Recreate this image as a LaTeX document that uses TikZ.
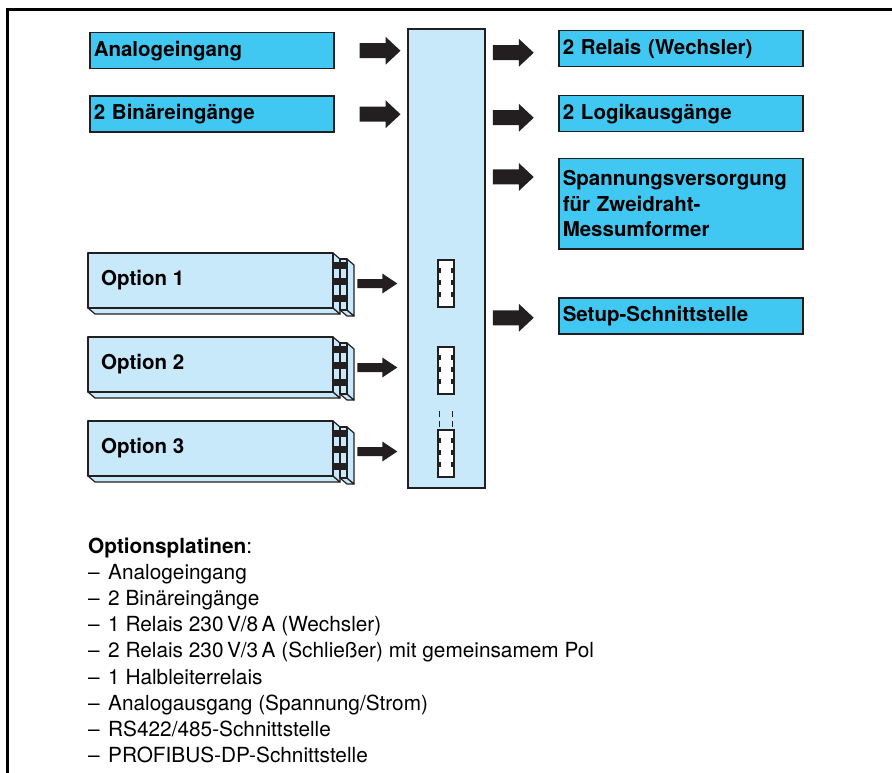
\documentclass[tikz,border=0pt]{standalone}
\usepackage{fontspec}
\setmainfont{TeX Gyre Heros}
\usetikzlibrary{positioning,calc}

\definecolor{boxcyan}{RGB}{64,200,242}
\definecolor{boardblue}{RGB}{199,233,249}
\definecolor{darkline}{RGB}{35,31,32}

\tikzset{
  boxfont/.style={font=\fontsize{20.5}{25.5}\selectfont\bfseries},
  ioBox/.style={draw=darkline, line width=1.5pt, fill=boxcyan, anchor=north west,
    minimum width=244pt, minimum height=36pt, text width=236pt, align=left,
    inner xsep=4pt, inner ysep=0pt, boxfont},
  boardface/.style={draw=darkline, line width=1.2pt, fill=boardblue, line join=round},
  slotbox/.style={draw=darkline, line width=2pt, fill=white, minimum width=16pt,
    minimum height=47pt, inner sep=0pt},
  listtext/.style={anchor=base west, inner sep=0pt, font=\fontsize{20.8}{25}\selectfont},
  bigarrow/.pic={
    \fill[darkline] (0,-7.5) -- (26,-7.5) -- (26,-14) -- (41,0) -- (26,14) -- (26,7.5) -- (0,7.5) -- cycle;
  },
  smallarrow/.pic={
    \fill[darkline] (0,-4.5) -- (25,-4.5) -- (25,-10) -- (40,0) -- (25,10) -- (25,4.5) -- (0,4.5) -- cycle;
  },
  optboard/.pic={
    % Platine
    \filldraw[boardface] (0,55) -- (7,61) -- (252,61) -- (245,55) -- cycle;
    \filldraw[boardface] (245,0) -- (252,6) -- (252,61) -- (245,55) -- cycle;
    \filldraw[boardface] (0,0) rectangle (245,55);
    % Stecker
    \filldraw[boardface] (252,57) -- (259,57) -- (266,63) -- (259,63) -- cycle;
    \filldraw[boardface] (259,6) -- (266,12) -- (266,63) -- (259,57) -- cycle;
    \filldraw[boardface] (252,6) rectangle (259,57);
    \foreach \p in {9,25,42}
      \fill[darkline] (245,\p) rectangle (259,\p+6.5);
  }
}

\begin{document}
\begin{tikzpicture}[x=1pt, y=-1pt]
\useasboundingbox (0,0) rectangle (892,773);

% Rahmen
  \draw[line width=3pt] (892,9.5) -- (7.5,9.5) -- (7.5,773);

% Grundgeraet
  \node[draw=darkline, line width=1.5pt, fill=boardblue, minimum width=77pt,
        minimum height=459pt, inner sep=0pt] (board) at (446.5,258.5) {};

% Eingaenge
  \node[ioBox] (ana) at (89,32) {Analogeingang};
  \node[ioBox] (bin) at (89,95.5) {2 Binäreingänge};
  \pic at ($(ana.east)+(25,0)$) {bigarrow};
  \pic at ($(bin.east)+(25,0)$) {bigarrow};

% Ausgaenge
  \node[ioBox] (rel) at (558,30) {2 Relais (Wechsler)};
  \node[ioBox] (logik) at (558,95) {2 Logikausgänge};
  \node[ioBox, minimum height=90pt] (spv) at (558,158)
       {Spannungsversorgung\\für Zweidraht-\\Messumformer};
  \node[ioBox] (setup) at (558,297) {Setup-Schnittstelle};
  \pic at ($(board.east |- rel.west)+(7,4)$) {bigarrow};
  \pic at ($(board.east |- logik.west)+(7,4)$) {bigarrow};
  \pic at ($(board.east |- spv.north)+(7,19)$) {bigarrow};
  \pic at ($(board.east |- setup.west)+(7,2)$) {bigarrow};

% Steckplaetze
  \foreach \n/\y in {1/283.5, 2/370, 3/453.5} {
    \node[slotbox] (slot\n) at (446,\y) {};
    \foreach \p in {9,21,33} {
      \fill[darkline] ($(slot\n.north west)+(1.5,\p)$) rectangle ++(2.5,5);
      \fill[darkline] ($(slot\n.north east)+(-4,\p)$) rectangle ++(2.5,5);
    }
  }
  \draw[darkline, line width=1.5pt, dash pattern=on 6pt off 4pt]
    ($(slot3.north west)+(2.5,-18)$) -- ($(slot3.north west)+(2.5,0)$)
    ($(slot3.north east)+(-2.5,-18)$) -- ($(slot3.north east)+(-2.5,0)$);

% Optionsplatinen
  \foreach \n/\y in {1/253, 2/337, 3/421} {
    \pic at (88,\y) {optboard};
    \node[anchor=west, inner sep=0pt, boxfont] (opt\n) at (101,\y+27.5) {Option \n};
    \pic at ($(opt\n.west -| board.west)+(-50,3)$) {smallarrow};
  }

% Liste
  \node[listtext] (head) at (88,553) {\textbf{Optionsplatinen}:};
  \foreach \txt [count=\i] in {Analogeingang, 2 Binäreingänge,
      {1 Relais 230\,V/8\,A (Wechsler)},
      {2 Relais 230\,V/3\,A (Schließer) mit gemeinsamem Pol},
      1 Halbleiterrelais, {Analogausgang (Spannung/Strom)},
      {RS422/485-Schnittstelle}, {PROFIBUS-DP-Schnittstelle}}
    \node[listtext] (item\i) at (88,553+26.2*\i) {\makebox[20pt][l]{–}\txt};

\end{tikzpicture}
\end{document}
